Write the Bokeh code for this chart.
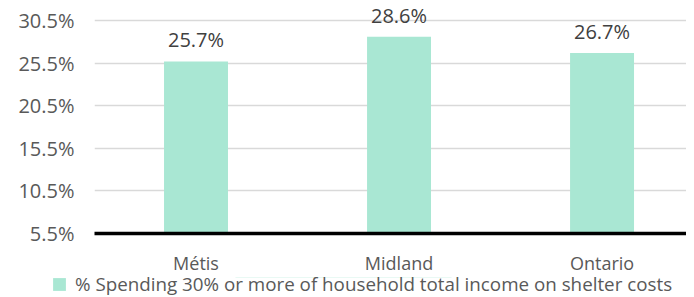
from bokeh.plotting import figure
from bokeh.layouts import column, row
from bokeh.models import ColumnDataSource, Range1d, FixedTicker, LabelSet, Legend, LegendItem
from bokeh.core.properties import value
from bokeh.embed import file_html
from bokeh.resources import INLINE

categories = ["Métis", "Midland", "Ontario"]
values = [25.7, 28.6, 26.7]
value_labels = ["25.7%", "28.6%", "26.7%"]
y_ticks = [5.5, 10.5, 15.5, 20.5, 25.5, 30.5]
series_name = "% Spending 30% or more of household total income on shelter costs"

xpos = [i + 0.5 for i in range(len(categories))]
source = ColumnDataSource(dict(x=xpos, top=values, label=value_labels, cat=categories))

FONT = "Open Sans"
BAR = "#A9E7D3"
AXIS_TXT = "#595959"

p = figure(frame_width=592, frame_height=233, output_backend="svg", toolbar_location=None,
           x_range=Range1d(0.0, 2.916), y_range=Range1d(5.5, 32.85),
           min_border_left=94, min_border_right=0, min_border_top=0, min_border_bottom=36)
p.outline_line_color = None
p.background_fill_color = "white"
p.border_fill_color = "white"

r = p.vbar(x="x", top="top", bottom=5.5, width=0.315, source=source,
           fill_color=BAR, line_color=None)

# y axis
p.yaxis.ticker = FixedTicker(ticks=y_ticks)
p.yaxis.major_label_overrides = {t: f"{t}%" for t in y_ticks}
p.yaxis.axis_line_color = None
p.yaxis.major_tick_line_color = None
p.yaxis.minor_tick_line_color = None
p.yaxis.major_label_text_font = FONT
p.yaxis.major_label_text_font_size = "20px"
p.yaxis.major_label_text_color = AXIS_TXT
p.yaxis.major_label_standoff = 14

p.ygrid.ticker = FixedTicker(ticks=y_ticks)
p.ygrid.grid_line_color = "#D9D9D9"
p.ygrid.grid_line_width = 1.5
p.xgrid.grid_line_color = None

# x axis
p.xaxis.ticker = FixedTicker(ticks=xpos)
p.xaxis.major_label_overrides = {x: c for x, c in zip(xpos, categories)}
p.xaxis.axis_line_color = "black"
p.xaxis.axis_line_width = 3.5
p.xaxis.major_tick_line_color = None
p.xaxis.minor_tick_line_color = None
p.xaxis.major_label_text_font = FONT
p.xaxis.major_label_text_font_size = "18px"
p.xaxis.major_label_text_color = AXIS_TXT
p.xaxis.major_label_standoff = 11

labels = LabelSet(x="x", y="top", text="label", source=source,
                  text_align="center", text_baseline="alphabetic", y_offset=14,
                  text_font=value(FONT), text_font_size=value("20px"), text_color="#404040")
p.add_layout(labels)

# legend strip below the chart
lf = figure(width=686, height=20, output_backend="svg", toolbar_location=None,
            x_range=Range1d(0, 1), y_range=Range1d(0, 1),
            x_axis_location=None, y_axis_location=None,
            min_border_left=0, min_border_right=0, min_border_top=0, min_border_bottom=0)
lf.grid.grid_line_color = None
lf.outline_line_color = None
lf.background_fill_color = "white"
lf.border_fill_color = "white"
lr = lf.vbar(x="x", top="top", bottom=5.5, width=0.315, source=source,
             fill_color=BAR, line_color=None)

legend = Legend(items=[LegendItem(label=series_name, renderers=[lr])],
                orientation="horizontal", location=(51, 0),
                label_text_font=FONT, label_text_font_size="18.8px",
                label_text_color=AXIS_TXT, glyph_width=16, glyph_height=16,
                label_height=20, label_standoff=8, padding=0, margin=0, spacing=0,
                border_line_color=None, background_fill_alpha=0)
lf.add_layout(legend, "center")

layout = column(p, row(lf), spacing=0)
open("out.html", "w").write(file_html(layout, INLINE))
